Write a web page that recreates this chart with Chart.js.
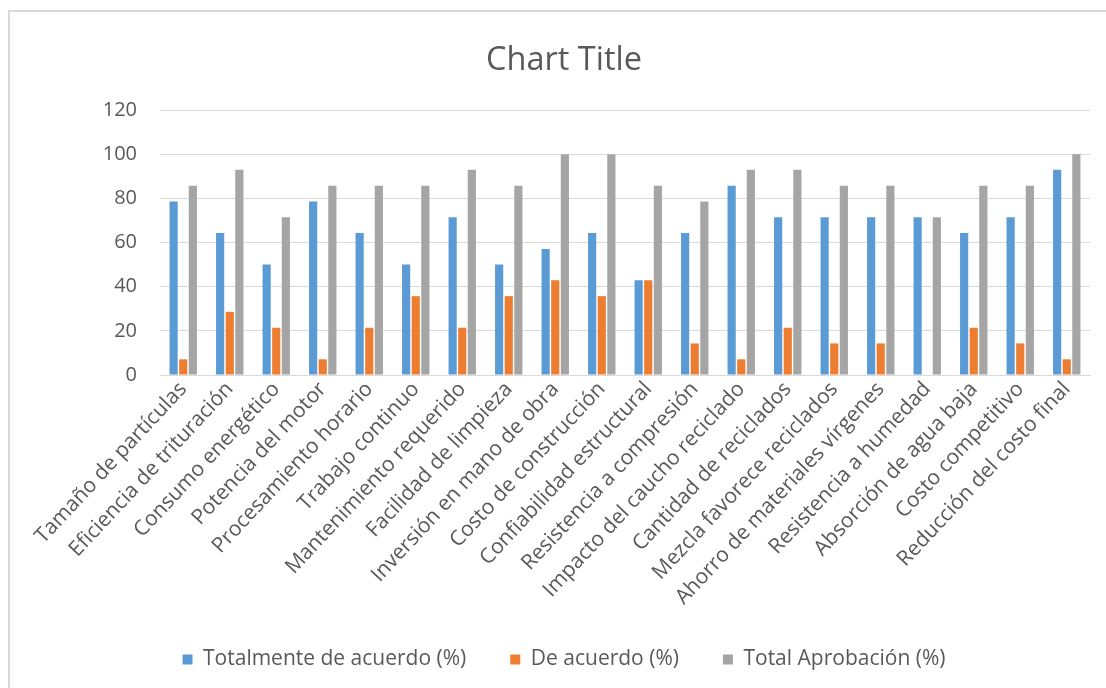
<!DOCTYPE html>
<html>
<head>
<meta charset="utf-8">
<script src="https://cdn.jsdelivr.net/npm/chart.js@4/dist/chart.umd.min.js"></script>
<style>
  html, body { margin: 0; padding: 0; background: #ffffff; overflow: hidden; }
  #wrap { position: relative; width: 1106px; height: 688px; overflow: hidden; }
  #frame { position: absolute; left: 8px; top: 10px; width: 2000px; height: 2000px;
           border: 2px solid #d9d9d9; box-sizing: border-box; }
  #chart { position: absolute; left: 0; top: 0; }
</style>
</head>
<body>
<div id="wrap">
  <div id="frame"></div>
  <canvas id="chart" width="1128" height="688"></canvas>
</div>
<script>
const categories = [
  "Tamaño de partículas", "Eficiencia de trituración", "Consumo energético",
  "Potencia del motor", "Procesamiento horario", "Trabajo continuo",
  "Mantenimiento requerido", "Facilidad de limpieza", "Inversión en mano de obra",
  "Costo de construcción", "Confiabilidad estructural", "Resistencia a compresión",
  "Impacto del caucho reciclado", "Cantidad de reciclados", "Mezcla favorece reciclados",
  "Ahorro de materiales vírgenes", "Resistencia a humedad", "Absorción de agua baja",
  "Costo competitivo", "Reducción del costo final"
];
const totalmenteDeAcuerdo = [78.6, 64.3, 50.0, 78.6, 64.3, 50.0, 71.4, 50.0, 57.1, 64.3,
                             42.9, 64.3, 85.7, 71.4, 71.4, 71.4, 71.4, 64.3, 71.4, 92.9];
const deAcuerdo = [7.1, 28.6, 21.4, 7.1, 21.4, 35.7, 21.4, 35.7, 42.9, 35.7,
                   42.9, 14.3, 7.1, 21.4, 14.3, 14.3, 0, 21.4, 14.3, 7.1];
const totalAprobacion = [85.7, 92.9, 71.4, 85.7, 85.7, 85.7, 92.9, 85.7, 100, 100,
                         85.7, 78.6, 92.9, 92.9, 85.7, 85.7, 71.4, 85.7, 85.7, 100];
const seriesNames = ["Totalmente de acuerdo (%)", "De acuerdo (%)", "Total Aprobación (%)"];
const yTicks = [0, 20, 40, 60, 80, 100, 120];

const FONT = "'Open Sans', 'DejaVu Sans', sans-serif";
const TEXT = "#595959";

new Chart(document.getElementById("chart"), {
  type: "bar",
  data: {
    labels: categories,
    datasets: [
      { label: seriesNames[0], data: totalmenteDeAcuerdo, backgroundColor: "#5B9BD5" },
      { label: seriesNames[1], data: deAcuerdo, backgroundColor: "#ED7D31" },
      { label: seriesNames[2], data: totalAprobacion, backgroundColor: "#A5A5A5" }
    ]
  },
  options: {
    responsive: false,
    animation: false,
    events: [],
    layout: { padding: { left: 0, right: 0, top: 0, bottom: 8 } },
    datasets: { bar: { categoryPercentage: 0.62, barPercentage: 0.85 } },
    plugins: {
      tooltip: { enabled: false },
      title: {
        display: true,
        text: "Chart Title",
        color: TEXT,
        font: { family: FONT, size: 32.5, weight: "normal", lineHeight: 1.2 },
        padding: { top: 41, bottom: 30 }
      },
      legend: {
        position: "bottom",
        labels: {
          color: TEXT,
          font: { family: FONT, size: 21 },
          boxWidth: 10,
          boxHeight: 10,
          padding: 44
        }
      }
    },
    scales: {
      x: {
        grid: { display: false, drawTicks: false },
        border: { display: true, color: "#d9d9d9", width: 1 },
        ticks: {
          color: TEXT,
          font: { family: FONT, size: 21 },
          minRotation: 47,
          maxRotation: 47,
          autoSkip: false,
          padding: 2
        },
        afterFit: (scale) => { scale.height = 230; }
      },
      y: {
        min: 0,
        max: 120,
        afterBuildTicks: (scale) => { scale.ticks = yTicks.map(v => ({ value: v })); },
        grid: { color: "#d9d9d9", lineWidth: 1, drawTicks: false },
        border: { display: false },
        ticks: {
          color: TEXT,
          font: { family: FONT, size: 20 },
          padding: 23
        },
        afterFit: (scale) => { scale.width = 160; }
      },
      // empty margin on the right so title and legend sit centred in the frame
      margin: {
        position: "right",
        display: true,
        grid: { display: false, drawTicks: false },
        border: { display: false },
        ticks: { display: false },
        afterFit: (scale) => { scale.width = 38; }
      }
    }
  }
});
</script>
</body>
</html>
